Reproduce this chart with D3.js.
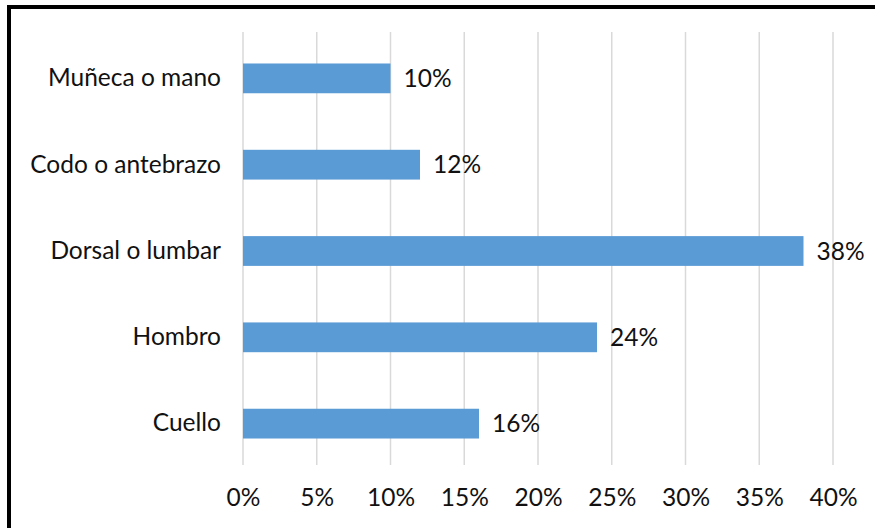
<!DOCTYPE html>
<html>
<head>
<meta charset="utf-8">
<script src="https://cdn.jsdelivr.net/npm/d3@7"></script>
<style>
  html, body { margin: 0; padding: 0; background: #fff; }
  svg { display: block; }
  text { font-family: Lato, "Open Sans", sans-serif; fill: #111; }
</style>
</head>
<body>
<svg id="chart" width="875" height="528"></svg>
<script>
// Zonas del cuerpo con molestias (porcentaje de respuestas)
const categories = ["Muñeca o mano", "Codo o antebrazo", "Dorsal o lumbar", "Hombro", "Cuello"];
const values = [0.10, 0.12, 0.38, 0.24, 0.16];
const tickValues = [0, 0.05, 0.10, 0.15, 0.20, 0.25, 0.30, 0.35, 0.40];

const svg = d3.select("#chart");
const W = 875, H = 528;
const plot = { left: 243, right: 833, top: 32, bottom: 465 };
const FONT = 24.5;

// Outer frame
svg.append("rect")
  .attr("x", 9).attr("y", 7)
  .attr("width", W + 20).attr("height", H + 20)
  .attr("fill", "none").attr("stroke", "#000").attr("stroke-width", 4);

const x = d3.scaleLinear().domain([0, 0.40]).range([plot.left, plot.right]);
const y = d3.scaleBand().domain(categories).range([plot.top + 3, plot.bottom + 2]).paddingInner(0.655).paddingOuter(0.33);

// Vertical gridlines
svg.append("g")
  .selectAll("line")
  .data(tickValues)
  .join("line")
  .attr("x1", d => x(d)).attr("x2", d => x(d))
  .attr("y1", plot.top).attr("y2", plot.bottom)
  .attr("stroke", "#D9D9D9").attr("stroke-width", 1.5);

// Bars
svg.append("g")
  .selectAll("rect")
  .data(values)
  .join("rect")
  .attr("x", x(0))
  .attr("y", (d, i) => y(categories[i]))
  .attr("width", d => x(d) - x(0))
  .attr("height", y.bandwidth())
  .attr("fill", "#5B9BD5");

// Value labels
const pct = d3.format(".0%");
svg.append("g")
  .selectAll("text")
  .data(values)
  .join("text")
  .attr("x", d => x(d) + 13)
  .attr("y", (d, i) => y(categories[i]) + y.bandwidth() / 2)
  .attr("dy", "0.35em")
  .attr("font-size", FONT)
  .text(d => pct(d));

// Category axis labels
const yAxis = d3.axisLeft(y).tickSize(0).tickPadding(22);
const yg = svg.append("g").attr("transform", `translate(${plot.left},0)`).call(yAxis);
yg.select(".domain").remove();
yg.attr("font-size", FONT).attr("font-family", null);
yg.selectAll("text").attr("fill", "#111");

// Percentage axis labels
const xAxis = d3.axisBottom(x).tickValues(tickValues).tickFormat(pct).tickSize(0).tickPadding(24);
const xg = svg.append("g").attr("transform", `translate(0,${plot.bottom})`).call(xAxis);
xg.select(".domain").remove();
xg.attr("font-size", FONT).attr("font-family", null);
xg.selectAll("text").attr("fill", "#111");
</script>
</body>
</html>
